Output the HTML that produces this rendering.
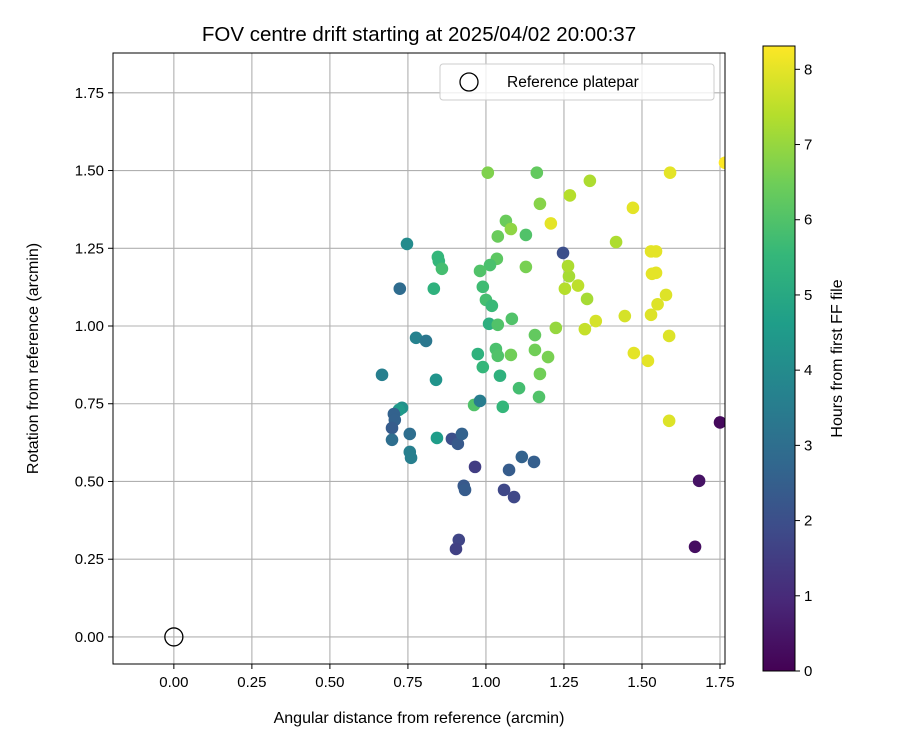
<!DOCTYPE html>
<html><head><meta charset="utf-8"><style>
body{margin:0;background:#fff;}
svg text{font-family:"Liberation Sans","DejaVu Sans",sans-serif;fill:#000;}
</style></head><body>
<svg id="c" width="900" height="750"></svg>
<script>
const xs=[1.766,1.75,1.683,1.670,1.59,1.471,1.417,1.529,1.545,1.532,1.545,1.577,1.55,1.529,1.445,1.352,1.324,1.295,1.266,1.263,1.253,1.247,1.269,1.333,1.208,1.173,1.163,1.006,1.064,1.08,1.128,1.038,1.035,1.013,0.981,1.128,0.99,1.0,1.019,1.01,1.038,1.083,1.157,1.224,1.317,1.587,1.519,1.474,1.587,1.157,1.199,1.032,1.038,0.974,0.99,1.08,1.045,1.106,1.173,1.17,1.054,0.962,0.981,0.747,0.846,0.849,0.859,0.833,0.724,0.776,0.808,0.667,0.84,0.731,0.721,0.705,0.708,0.699,0.699,0.756,0.756,0.76,0.843,0.891,0.91,0.923,0.965,0.929,0.933,0.913,0.904,1.058,1.09,1.074,1.115,1.154];
const ys=[1.525,0.69,0.502,0.29,1.493,1.38,1.27,1.24,1.24,1.168,1.171,1.10,1.07,1.036,1.032,1.016,1.087,1.13,1.16,1.193,1.12,1.235,1.42,1.467,1.33,1.393,1.493,1.493,1.338,1.312,1.293,1.288,1.216,1.196,1.177,1.19,1.126,1.084,1.065,1.007,1.004,1.023,0.971,0.994,0.99,0.968,0.888,0.913,0.695,0.923,0.9,0.926,0.904,0.91,0.868,0.907,0.84,0.80,0.846,0.772,0.74,0.746,0.759,1.264,1.222,1.209,1.184,1.12,1.12,0.962,0.952,0.843,0.827,0.737,0.730,0.717,0.698,0.672,0.634,0.653,0.595,0.576,0.64,0.637,0.621,0.653,0.547,0.486,0.473,0.312,0.283,0.473,0.45,0.537,0.579,0.563];
const hours=[8.3,0.2,0.4,0.3,8.0,8.0,7.3,8.0,8.0,8.0,8.0,7.9,7.9,7.9,7.8,7.8,7.2,7.5,7.2,7.3,7.4,2.0,7.4,7.3,8.0,6.8,6.3,6.7,6.4,6.9,6.0,6.4,6.2,5.9,6.0,6.6,5.7,5.8,5.6,5.2,6.0,6.0,6.3,7.0,7.6,7.9,8.0,8.0,7.9,6.5,6.6,5.9,6.0,5.3,5.5,6.5,5.3,5.8,6.5,6.0,5.5,6.0,3.5,4.0,5.5,5.5,5.8,5.3,2.9,3.7,3.3,3.6,4.3,4.2,4.5,2.6,2.6,2.4,3.0,3.0,3.6,3.6,4.6,2.0,2.3,2.6,1.5,2.3,2.4,1.7,1.6,1.8,1.8,2.4,2.6,2.5];
const xTicks=[0,0.25,0.5,0.75,1.0,1.25,1.5,1.75];
const yTicks=[0,0.25,0.5,0.75,1.0,1.25,1.5,1.75];
const cTicks=[0,1,2,3,4,5,6,7,8];
const L=113,R=725,T=53,B=664,xmin=-0.195,xmax=1.766,ymin=-0.087,ymax=1.878,cmax=8.31;
const X=v=>L+(v-xmin)/(xmax-xmin)*(R-L), Y=v=>B-(v-ymin)/(ymax-ymin)*(B-T);
const CT=46,CB=671,CY=v=>CB-v/cmax*(CB-CT);
const vir=[[68,1,84],[72,40,120],[62,74,137],[49,104,142],[38,130,142],[31,158,137],[53,183,121],[109,205,89],[180,222,44],[253,231,37]];
function col(h){let t=Math.max(0,Math.min(1,h/cmax))*9,i=Math.min(8,Math.floor(t)),f=t-i,a=vir[i],b=vir[i+1];return `rgb(${a.map((v,k)=>Math.round(v+(b[k]-v)*f)).join(',')})`;}
const svg=document.getElementById('c'),NS='http://www.w3.org/2000/svg';
function el(t,at,p){const e=document.createElementNS(NS,t);for(const k in at)e.setAttribute(k,at[k]);(p||svg).appendChild(e);return e;}
function txt(s,at,p){const e=el('text',at,p);e.textContent=s;return e;}
const defs=el('defs',{});const cp=el('clipPath',{id:'cp'},defs);el('rect',{x:L,y:T,width:R-L,height:B-T},cp);
const g=el('g',{});
xTicks.forEach(v=>{el('line',{x1:X(v),x2:X(v),y1:T,y2:B,stroke:'#b0b0b0','stroke-width':1.1},g);
 el('line',{x1:X(v),x2:X(v),y1:B,y2:B+5,stroke:'#000'});
 const t=txt(v.toFixed(2),{x:X(v),y:B+23,'font-size':15,'text-anchor':'middle'});});
yTicks.forEach(v=>{el('line',{y1:Y(v),y2:Y(v),x1:L,x2:R,stroke:'#b0b0b0','stroke-width':1.1},g);
 el('line',{y1:Y(v),y2:Y(v),x1:L-5,x2:L,stroke:'#000'});
 const t=txt(v.toFixed(2),{x:L-9,y:Y(v)+5,'font-size':15,'text-anchor':'end'});});
const pts=el('g',{'clip-path':'url(#cp)'});
xs.forEach((x,i)=>{const c=el('circle',{cx:X(x),cy:Y(ys[i]),r:6.3,fill:col(hours[i])},pts);});
const ref=el('circle',{cx:X(0),cy:Y(0),r:9,fill:'none',stroke:'#000','stroke-width':1.3});
const fr=el('rect',{x:L,y:T,width:R-L,height:B-T,fill:'none',stroke:'#000','stroke-width':1});
const lg=el('g',{});
el('rect',{x:440,y:64,width:274,height:36,rx:3,fill:'#fff','fill-opacity':0.8,stroke:'#ccc'},lg);
el('circle',{cx:469,cy:82,r:9,fill:'none',stroke:'#000','stroke-width':1.3},lg);
txt('Reference platepar',{x:507,y:87,'font-size':15.5},lg);
const tt=txt('FOV centre drift starting at 2025/04/02 20:00:37',{x:419,y:41,'font-size':20.5,'text-anchor':'middle'});
const xl=txt('Angular distance from reference (arcmin)',{x:419,y:723,'font-size':16,'text-anchor':'middle'});
const yl=txt('Rotation from reference (arcmin)',{x:0,y:0,'font-size':16,'text-anchor':'middle',transform:`translate(38,${(T+B)/2}) rotate(-90)`});
const cb=el('g',{});
const lgd=el('linearGradient',{id:'vg',x1:0,y1:1,x2:0,y2:0},defs);
vir.forEach((c,i)=>el('stop',{offset:i/9,'stop-color':`rgb(${c.join(',')})`},lgd));
el('rect',{x:763,y:CT,width:32,height:CB-CT,fill:'url(#vg)',stroke:'#000','stroke-width':1},cb);
cTicks.forEach(v=>{el('line',{x1:795,x2:800,y1:CY(v),y2:CY(v),stroke:'#000'},cb);const t=txt(String(v),{x:804,y:CY(v)+5,'font-size':15},cb);});
const cl=txt('Hours from first FF file',{x:0,y:0,'font-size':16,'text-anchor':'middle',transform:`translate(842,${(CT+CB)/2}) rotate(-90)`},cb);
</script>
</body></html>
